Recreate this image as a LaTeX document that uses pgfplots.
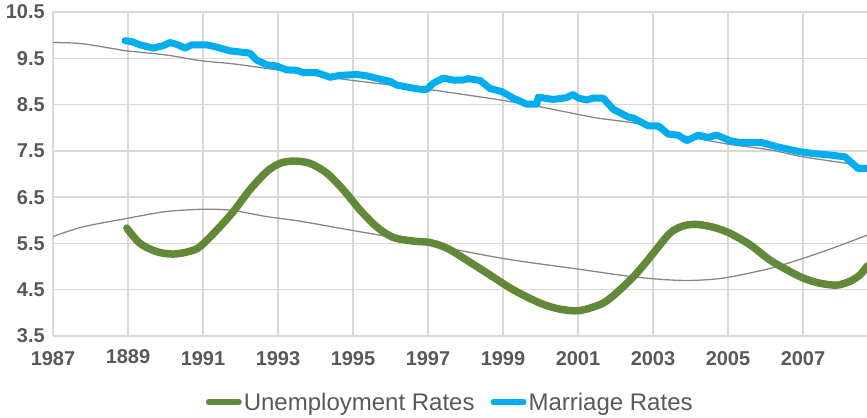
\documentclass[border=0pt]{standalone}
\usepackage{fontspec}
\setmainfont{Liberation Sans}
\usepackage{pgfplots}
\pgfplotsset{compat=1.18}

\definecolor{unempgreen}{RGB}{98,137,56}
\definecolor{marblue}{RGB}{0,174,239}
\definecolor{trendgray}{RGB}{135,135,135}
\definecolor{gridgray}{RGB}{217,217,217}
\definecolor{labelgray}{RGB}{89,89,89}

\begin{document}
\begin{tikzpicture}
\begin{axis}[
    scale only axis,
    width=814pt, height=324pt,
    xmin=1987, xmax=2008.707,
    ymin=3.5, ymax=10.5,
    xtick={1987,1989,1991,1993,1995,1997,1999,2001,2003,2005,2007},
    xticklabels={1987,\raisebox{2.5pt}{1889},1991,1993,1995,1997,1999,2001,2003,2005,2007},
    ytick={3.5,4.5,5.5,6.5,7.5,8.5,9.5,10.5},
    yticklabels={3.5,4.5,5.5,6.5,7.5,8.5,9.5,10.5},
    axis line style={draw=none},
    major tick length=0pt,
    grid=major,
    major grid style={gridgray, line width=1.5pt},
    ticklabel style={font=\fontsize{20}{24}\selectfont\bfseries, text=labelgray},
    /pgf/number format/assume math mode=true,
    yticklabel style={inner sep=0pt, xshift=-8pt},
    xticklabel style={inner sep=0pt, anchor=base, yshift=-30pt},
    legend columns=2,
    legend style={at={(0.488,-0.204)}, anchor=center, draw=none, fill=none,
        font=\fontsize{24}{28}\selectfont, text=labelgray,
        /tikz/every even column/.append style={column sep=14pt}},
    legend cell align=left,
    legend image code/.code={\draw[#1, line width=6pt, line cap=round] (0pt,0pt) -- (30pt,0pt);},
]
% trendlines
\addplot[trendgray, line width=1.3pt, smooth, forget plot] coordinates {
(1987.00,9.84) (1987.72,9.82) (1988.52,9.72) (1988.97,9.66) (1990.03,9.57)
(1990.92,9.45) (1991.80,9.38) (1992.70,9.28) (1993.60,9.18) (1995.00,9.02)
(1996.97,8.83) (1997.59,8.76) (1998.92,8.60) (1999.99,8.45) (2001.05,8.28)
(2001.59,8.20) (2002.57,8.09) (2003.45,7.89) (2003.90,7.81) (2004.97,7.65)
(2006.12,7.52) (2007.01,7.37) (2008.17,7.23) (2008.71,7.16)
};
\addplot[trendgray, line width=1.3pt, smooth, forget plot] coordinates {
(1987.00,5.65) (1987.81,5.86) (1988.97,6.04) (1990.03,6.19) (1991.10,6.24)
(1991.81,6.21) (1992.70,6.08) (1993.59,5.98) (1994.92,5.79) (1996.97,5.50)
(1998.03,5.32) (1999.27,5.14) (2001.05,4.94) (2002.57,4.77) (2003.81,4.70)
(2004.87,4.75) (2006.12,4.96) (2007.01,5.18) (2007.90,5.43) (2008.71,5.68)
};
% unemployment
\addplot[unempgreen, line width=7.5pt, smooth, line cap=round] coordinates {
(1988.97,5.83) (1989.32,5.50) (1989.77,5.32) (1990.21,5.27) (1990.65,5.33)
(1990.92,5.43) (1991.37,5.79) (1991.81,6.19) (1992.25,6.66) (1992.70,7.05)
(1993.05,7.23) (1993.41,7.28) (1993.85,7.23) (1994.30,7.02) (1994.74,6.66)
(1995.19,6.22) (1995.63,5.86) (1996.07,5.63) (1996.61,5.55) (1997.05,5.52)
(1997.50,5.40) (1998.03,5.14) (1998.65,4.82) (1999.27,4.50) (1999.99,4.21)
(2000.52,4.08) (2001.05,4.05) (2001.67,4.21) (2002.12,4.50) (2002.57,4.86)
(2003.01,5.29) (2003.45,5.72) (2003.81,5.88) (2004.17,5.91) (2004.61,5.85)
(2005.05,5.72) (2005.59,5.47) (2006.12,5.14) (2006.57,4.93) (2007.01,4.75)
(2007.45,4.64) (2007.90,4.60) (2008.25,4.68) (2008.52,4.82) (2008.71,5.01)
};
\addlegendentry{Unemployment Rates}
% marriage
\addplot[marblue, line width=7pt, line join=round, line cap=round] coordinates {
(1988.92,9.88) (1989.10,9.86) (1989.32,9.79) (1989.67,9.72) (1989.93,9.77)
(1990.12,9.84) (1990.30,9.80) (1990.52,9.72) (1990.70,9.79) (1991.10,9.79)
(1991.37,9.74) (1991.72,9.66) (1992.17,9.62) (1992.25,9.61) (1992.43,9.46)
(1992.70,9.36) (1992.97,9.33) (1993.23,9.25) (1993.50,9.24) (1993.67,9.19)
(1994.03,9.19) (1994.39,9.09) (1994.65,9.13) (1995.10,9.15) (1995.37,9.12)
(1995.72,9.05) (1995.99,9.00) (1996.17,8.92) (1996.43,8.88) (1996.87,8.82)
(1996.97,8.83) (1997.14,8.96) (1997.41,9.07) (1997.67,9.03) (1997.94,9.03)
(1998.07,9.06) (1998.39,9.02) (1998.65,8.85) (1998.97,8.78) (1999.27,8.64)
(1999.63,8.51) (1999.90,8.51) (1999.94,8.66) (2000.34,8.61) (2000.70,8.65)
(2000.86,8.72) (2001.01,8.64) (2001.23,8.60) (2001.41,8.64) (2001.67,8.64)
(2001.94,8.40) (2002.34,8.23) (2002.47,8.21) (2002.87,8.04) (2003.14,8.04)
(2003.41,7.86) (2003.67,7.84) (2003.90,7.72) (2004.21,7.84) (2004.47,7.79)
(2004.70,7.84) (2005.05,7.72) (2005.32,7.68) (2005.90,7.68) (2006.30,7.59)
(2006.92,7.48) (2007.19,7.45) (2007.72,7.41) (2008.12,7.37) (2008.47,7.12)
(2008.71,7.12)
};
\addlegendentry{Marriage Rates}
\end{axis}
\pgfresetboundingbox
\path[use as bounding box] ([xshift=-53pt,yshift=-82pt]current axis.south west)
    rectangle ([yshift=12pt]current axis.north east);
\end{tikzpicture}
\end{document}
